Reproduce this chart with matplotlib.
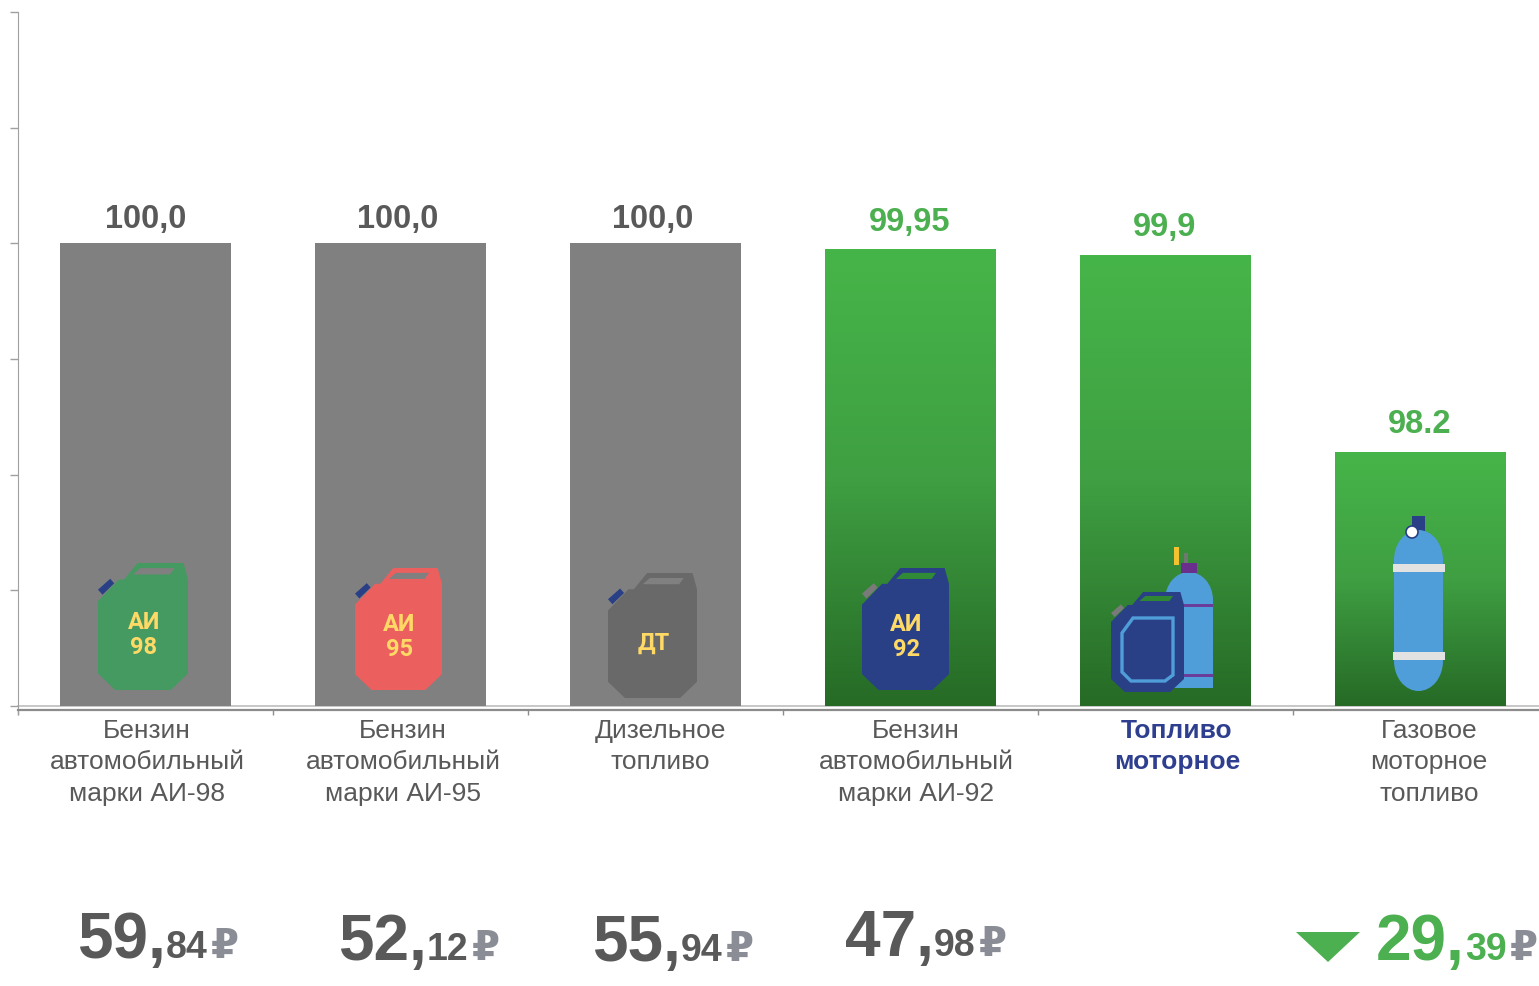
import numpy as np
import matplotlib
matplotlib.use("Agg")
import matplotlib.pyplot as plt
from matplotlib.colors import LinearSegmentedColormap
from matplotlib.patches import Polygon, Rectangle, Circle, Ellipse

plt.rcParams['font.family'] = ['Liberation Sans', 'DejaVu Sans']

# data (bar heights are not on the same scale as their labels)
categories = [
    "Бензин\nавтомобильный\nмарки АИ-98",
    "Бензин\nавтомобильный\nмарки АИ-95",
    "Дизельное\nтопливо",
    "Бензин\nавтомобильный\nмарки АИ-92",
    "Топливо\nмоторное",
    "Газовое\nмоторное\nтопливо",
]
bar_heights = [100, 100, 100, 98.7, 97.4, 55]
value_labels = ["100,0", "100,0", "100,0", "99,95", "99,9", "98.2"]
price_whole = ["59,", "52,", "55,", "47,", None, "29,"]
price_frac = ["84", "12", "94", "98", None, "39"]

GREY = "#808080"
TEXT_GREY = "#595959"
GREEN = "#4CAF50"
NAVY = "#2A4086"
YELLOW = "#FFD966"
BLUE = "#4F9DD9"

# pixel spots for the text, the labels do not sit on the bar centres
label_x = [147, 403, 660, 916, 1177, 1429]
value_x = [146, 398, 653, 910, 1165, 1420]
value_gap = [24, 24, 24, 27, 28, 27]
price_x = [77, 338, 592, 845, None, 1376]
price_y = [958, 960, 961, 956, None, 960]

fig = plt.figure(figsize=(15.39, 9.86), dpi=100)
W, H = 1539, 986
ax = fig.add_axes([18 / W, (H - 706) / H, (W - 18) / W, 694 / H])

x = np.arange(len(categories))
bars = ax.bar(x, bar_heights, width=0.667, color=GREY, zorder=2)

# green bars get a vertical gradient
green_cmap = LinearSegmentedColormap.from_list("g", ["#46B549", "#3F9F42", "#266A26"])
grad = np.linspace(0, 1, 256).reshape(-1, 1)
for i in [3, 4, 5]:
    b = bars[i]
    im = ax.imshow(grad, cmap=green_cmap, aspect="auto", zorder=3,
                   extent=[b.get_x(), b.get_x() + b.get_width(), 0, b.get_height()])
    im.set_clip_path(b)

for s in ["top", "right"]:
    ax.spines[s].set_visible(False)
ax.spines["left"].set_color("#A0A0A0")
ax.spines["left"].set_bounds(-1.8, 150)
ax.spines["bottom"].set_position(("outward", 2.6))
ax.spines["bottom"].set_color("#8C8C8C")
ax.spines["bottom"].set_linewidth(1.6)
ax.axhline(0, color="#BDBDBD", lw=1.2, zorder=1, clip_on=False)
ax.set_yticks(np.arange(0, 151, 25))
ax.set_xticks(np.arange(0, 7) - 0.5)
ax.set_xticklabels([])
ax.set_yticklabels([])
ax.tick_params(axis="y", length=6, color="#A0A0A0", width=1)
ax.tick_params(axis="x", length=3.5, color="#8C8C8C", width=1)
# limits last, the ticks would widen them otherwise
ax.set_xlim(-0.5, -0.5 + (W - 18) / 255)
ax.set_ylim(0, 150)

# overlay in pixel coords for the icons and the text
ov = fig.add_axes([0, 0, 1, 1], facecolor="none", zorder=5)
ov.set_xlim(0, W)
ov.set_ylim(H, 0)
ov.axis("off")


def scaled(points, x0, x1, y0, y1):
    # points are in a 0-1 box with v going up from the bottom of the can
    return [(x0 + u * (x1 - x0), y1 - v * (y1 - y0)) for u, v in points]


CAN_BODY = [(0.19, 0), (0.81, 0), (1, 0.13), (1, 0.87), (0.95, 1), (0.44, 1),
            (0.29, 0.87), (0.23, 0.87), (0, 0.70), (0, 0.13)]
CAN_HOLE = [(0.39, 0.91), (0.80, 0.91), (0.85, 0.96), (0.47, 0.96)]
CAN_CAP = [(0, 0.79), (0.136, 0.876), (0.18, 0.84), (0.05, 0.75)]


def jerrycan(x0, x1, y0, y1, color, hole, cap, text=None):
    ov.add_patch(Polygon(scaled(CAN_BODY, x0, x1, y0, y1), fc=color, ec="none"))
    ov.add_patch(Polygon(scaled(CAN_HOLE, x0, x1, y0, y1), fc=hole, ec="none"))
    ov.add_patch(Polygon(scaled(CAN_CAP, x0, x1, y0, y1), fc=cap, ec="none"))
    if text:
        ov.text((x0 + x1) / 2 + 1, y0 + (y1 - y0) * 0.565, text, color=YELLOW, ha="center",
                va="center", fontsize=17, fontweight="bold", family="Roboto",
                linespacing=1.1)


def cylinder(x0, x1, y0, y1, color, dome=30, round_bottom=True):
    cx = (x0 + x1) / 2
    bottom = y1 - dome if round_bottom else y1
    ov.add_patch(Rectangle((x0, y0 + dome), x1 - x0, bottom - y0 - dome, fc=color, ec="none"))
    ov.add_patch(Ellipse((cx, y0 + dome), x1 - x0, dome * 2, fc=color, ec="none"))
    if round_bottom:
        ov.add_patch(Ellipse((cx, y1 - dome), x1 - x0, dome * 2, fc=color, ec="none"))


jerrycan(98, 188, 563, 690, "#459A62", GREY, "#2A4086", "АИ\n98")
jerrycan(355, 442, 568, 690, "#EC5F5F", GREY, "#2A4086", "АИ\n95")
jerrycan(608, 697, 573, 698, "#696969", GREY, "#2A4086", "ДТ")
jerrycan(862, 949, 568, 690, NAVY, "#318A35", "#7A7A7A", "АИ\n92")

# motor fuel: gas cylinder behind a can
cylinder(1165, 1213, 572, 688, BLUE, dome=28, round_bottom=False)
ov.add_patch(Rectangle((1165, 604), 48, 3, fc="#6A3D9A", ec="none"))
ov.add_patch(Rectangle((1165, 674), 48, 3, fc="#6A3D9A", ec="none"))
ov.add_patch(Rectangle((1181, 563), 16, 10, fc="#6A2E8C", ec="none"))
ov.add_patch(Rectangle((1184, 553), 4, 10, fc="#6F7A6F", ec="none"))
ov.add_patch(Rectangle((1174, 547), 5, 18, fc="#F2C230", ec="none"))
jerrycan(1111, 1184, 592, 692, NAVY, "#2F8734", "#7A7A7A")
ov.add_patch(Polygon([(1133, 618), (1173, 618), (1173, 675), (1165, 681), (1131, 681),
                      (1122, 672), (1122, 633)], fc="none", ec=BLUE, lw=2.4))

# gas cylinder
ov.add_patch(Rectangle((1412, 516), 13, 16, fc=NAVY, ec="none"))
cylinder(1394, 1443, 530, 691, BLUE)
ov.add_patch(Rectangle((1393, 564), 52, 8, fc="#E2E2E2", ec="none"))
ov.add_patch(Rectangle((1393, 652), 52, 8, fc="#E2E2E2", ec="none"))
ov.add_patch(Circle((1412, 532), 6, fc="white", ec=NAVY, lw=1.2))

# value labels above the bars
for i, lab in enumerate(value_labels):
    top = 706 - bar_heights[i] * 694 / 150
    ov.text(value_x[i], top - value_gap[i], lab, ha="center", va="center", fontsize=23.5,
            fontweight="bold", color=TEXT_GREY if i < 3 else GREEN)

# category labels
for i, cat in enumerate(categories):
    hl = i == 4
    ov.text(label_x[i], 719, cat, ha="center", va="top", fontsize=19, linespacing=1.39,
            color="#2E3F8F" if hl else TEXT_GREY, fontweight="bold" if hl else "normal")

# prices
for i in range(len(categories)):
    if price_whole[i] is None:
        continue
    col = GREEN if i == 5 else TEXT_GREY
    ov.text(price_x[i], price_y[i], price_whole[i], ha="left", va="baseline", fontsize=46,
            fontweight="bold", color=col)
    ov.text(price_x[i] + 89, price_y[i], price_frac[i], ha="left", va="baseline", fontsize=27,
            fontweight="bold", color=col)
    ov.text(price_x[i] + 134, price_y[i], "₽", ha="left", va="baseline", fontsize=29,
            fontweight="bold", color="#8A8C96")

ov.add_patch(Polygon([(1296, 932), (1360, 932), (1328, 962)], fc=GREEN, ec="none"))

fig.savefig("out.png", dpi=100)
